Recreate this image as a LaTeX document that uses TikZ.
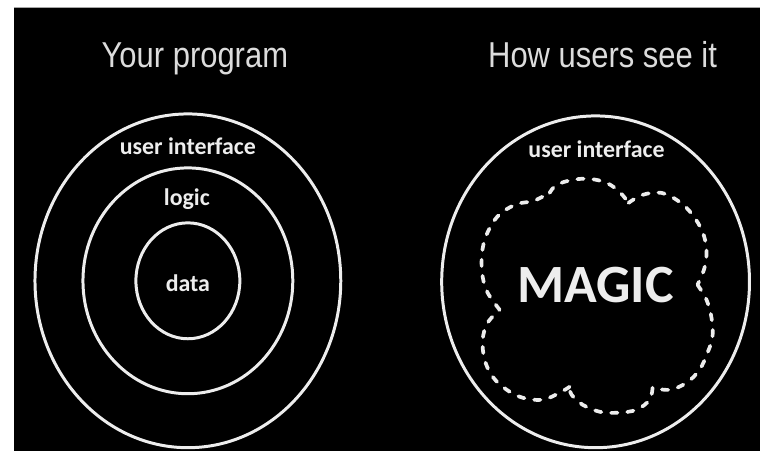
\documentclass[tikz,border=0pt]{standalone}
\usepackage{fontspec}
\setmainfont{Liberation Sans}
\newfontfamily\headfont[FakeStretch=0.86]{Liberation Sans}
\newfontfamily\uifont{Carlito}
\usepackage{tikz}
\usetikzlibrary{positioning}
\usepackage{xcolor}
\definecolor{ring}{HTML}{EDEDED}
\definecolor{headgray}{HTML}{DCDCDC}
\newcommand{\ui}{user interface}

\begin{document}
\begin{tikzpicture}[
  ringline/.style={draw=ring,line width=1.7pt},
  cloudline/.style={draw=ring,line width=2.1pt,dash pattern=on 3.6pt off 5.6pt,line cap=round},
  head/.style={text=headgray,font=\headfont\fontsize{20.5}{23}\selectfont,anchor=base,inner sep=0pt},
  lbl/.style={text=ring,font=\uifont\bfseries\fontsize{13.6}{16}\selectfont,anchor=base,inner sep=0pt}
]
% page and black panel
\fill[white] (0,0) rectangle (15.22,9.02);
\fill[black] (0.28,0) rectangle (15.22,8.88);
\draw[gray!70,line width=0.6pt] (0.28,8.87) -- (15.22,8.87);
\useasboundingbox (0,0) rectangle (15.22,9.02);

% titles
\node[head] (ttl) at (3.90,7.66) {Your program};
\node[head] (ttr) at (12.06,7.66) {How users see it};

% left: layered program
\coordinate (lc) at (3.76,3.40);
\draw[ringline] (lc) ellipse (3.06 and 3.34);
\draw[ringline] (lc) ellipse (2.10 and 2.26);
\draw[ringline] (lc) ellipse (1.04 and 1.16);
\node[lbl] (uil) at (3.76,5.92) {\ui};
\node[lbl] (lgc) at (3.74,4.90) {logic};
\node[lbl] (dat) at (3.76,3.18) {data};

% right: what users see
\coordinate (rc) at (11.92,3.38);
\draw[ringline] (rc) ellipse (3.08 and 3.32);
\node[lbl] (uir) at (11.94,5.86) {\ui};
\node[lbl,font=\uifont\bfseries\fontsize{30.7}{34}\selectfont] (mag) at (11.92,2.96) {MAGIC};

% cloud, one lobe per plot
\draw[cloudline]
  plot[smooth,tension=0.6] coordinates {(10.00,2.82) (9.76,3.16) (9.66,3.48) (9.64,3.86) (9.70,4.22) (9.86,4.56) (10.06,4.78) (10.36,4.94) (10.68,5.00) (11.00,5.16)}
  plot[smooth,tension=0.6] coordinates {(11.00,5.16) (11.14,5.32) (11.46,5.42) (11.80,5.44) (12.14,5.36) (12.40,5.18) (12.58,4.96)}
  plot[smooth,tension=0.6] coordinates {(12.58,4.96) (12.86,5.12) (13.24,5.16) (13.60,4.98) (13.86,4.72) (14.06,4.38) (14.14,4.02) (14.10,3.66) (13.96,3.32)}
  plot[smooth,tension=0.6] coordinates {(13.96,3.32) (14.14,3.02) (14.24,2.66) (14.26,2.28) (14.16,1.96) (14.00,1.62) (13.74,1.36) (13.40,1.22) (13.06,1.26)}
  plot[smooth,tension=0.6] coordinates {(13.06,1.26) (13.00,1.02) (12.74,0.82) (12.36,0.76) (12.00,0.78) (11.66,0.92) (11.44,1.12) (11.40,1.28)}
  plot[smooth,tension=0.6] coordinates {(11.40,1.28) (11.20,1.16) (10.86,1.02) (10.46,1.06) (10.14,1.22) (9.86,1.48) (9.70,1.82) (9.66,2.22) (9.76,2.56) (10.00,2.82)};
\end{tikzpicture}
\end{document}
